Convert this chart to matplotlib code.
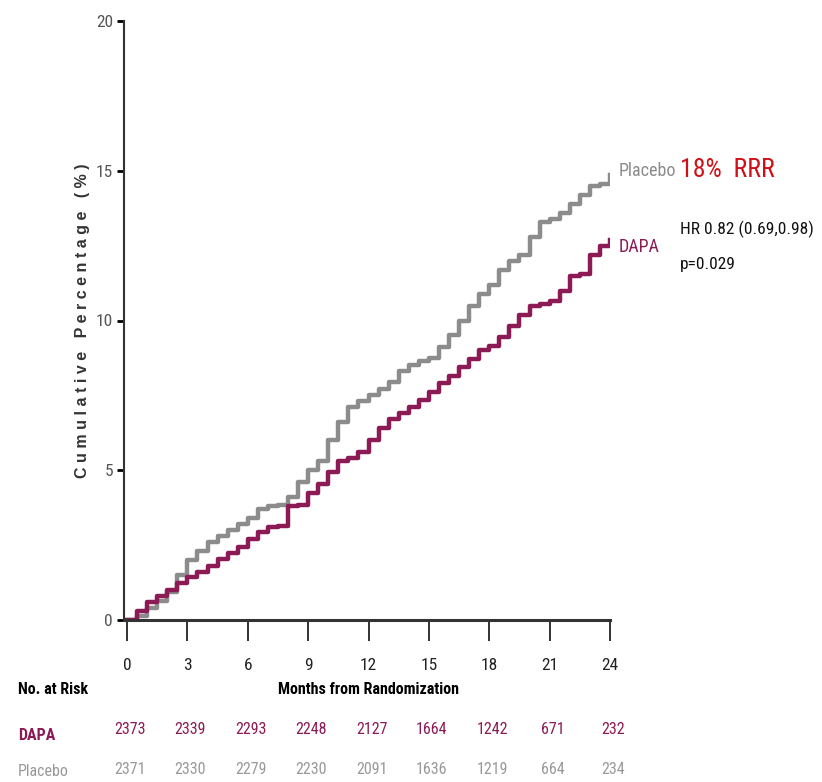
import matplotlib
matplotlib.use('Agg')
import matplotlib.pyplot as plt
import matplotlib.transforms as mtransforms
from matplotlib import font_manager

# pick a narrow face if one is installed
installed = {f.name for f in font_manager.fontManager.ttflist}
narrow = next((n for n in ['Arial Narrow', 'Liberation Sans Narrow', 'Roboto Condensed',
                           'Archivo Narrow', 'PT Sans Narrow', 'Barlow Condensed']
               if n in installed), 'DejaVu Sans')
plt.rcParams['font.family'] = [narrow, 'DejaVu Sans']

# Cumulative percentage, every half month
months = [i * 0.5 for i in range(49)]
placebo = [0, 0.15, 0.4, 0.65, 0.95, 1.5, 2.0, 2.3, 2.6, 2.8, 3.0, 3.2, 3.4, 3.7, 3.8, 3.85,
           4.1, 4.6, 5.0, 5.3, 6.0, 6.6, 7.1, 7.3, 7.5, 7.7, 7.95, 8.3, 8.5, 8.65, 8.75, 9.1,
           9.5, 10.0, 10.5, 10.9, 11.2, 11.7, 12.0, 12.2, 12.8, 13.3, 13.4, 13.6, 13.9, 14.2,
           14.5, 14.55, 14.85]
dapa = [0, 0.3, 0.6, 0.8, 1.0, 1.25, 1.45, 1.6, 1.8, 2.05, 2.25, 2.45, 2.7, 2.95, 3.1, 3.15,
        3.8, 3.85, 4.25, 4.55, 4.95, 5.3, 5.4, 5.6, 6.0, 6.4, 6.7, 6.9, 7.1, 7.35, 7.6, 7.9,
        8.15, 8.45, 8.7, 9.0, 9.15, 9.45, 9.8, 10.2, 10.5, 10.55, 10.65, 11.0, 11.5, 11.55,
        12.2, 12.5, 12.7]

risk_months = [0, 3, 6, 9, 12, 15, 18, 21, 24]
risk_dapa = ['2373', '2339', '2293', '2248', '2127', '1664', '1242', '671', '232']
risk_placebo = ['2371', '2330', '2279', '2230', '2091', '1636', '1219', '664', '234']

grey = '#8c8c8c'
maroon = '#8b1a55'
W, H = 822, 782

fig = plt.figure(figsize=(W / 100, H / 100), dpi=100)
ax = fig.add_axes([124 / W, 1 - 620 / H, 486 / W, 599 / H])

ax.step(months, placebo, where='post', color=grey, lw=3.2)
ax.step(months, dapa, where='post', color=maroon, lw=3.2)

ax.set_xlim(-0.15, 24)
ax.set_ylim(0, 20)
ax.set_xticks(risk_months)
ax.set_yticks([0, 5, 10, 15, 20])
ax.spines['top'].set_visible(False)
ax.spines['right'].set_visible(False)
ax.spines['left'].set_color('#333333')
ax.spines['bottom'].set_color('#333333')
ax.spines['bottom'].set_linewidth(2.2)
ax.spines['left'].set_linewidth(1.5)
ax.tick_params(axis='x', length=15, width=1.3, pad=12, labelsize=12.5, colors='#222222')
ax.tick_params(axis='y', length=5, width=2, pad=3, labelsize=12.5, labelcolor='#555555')

ax.set_ylabel('C u m u l a t i v e   P e r c e n t a g e   ( % )', fontsize=11.5,
              fontweight='bold', color='#333333', labelpad=4, family='Liberation Sans')

fx = lambda px: px / W
fy = lambda py: 1 - py / H
fig.text(fx(368), fy(690), 'Months from Randomization', ha='center', va='center',
         fontsize=11.5, fontweight='bold')
fig.text(fx(18), fy(690), 'No. at Risk', ha='left', va='center', fontsize=11.5, fontweight='bold')
fig.text(fx(18), fy(735), 'DAPA', ha='left', va='center', fontsize=11.5, fontweight='bold', color=maroon)
fig.text(fx(18), fy(771), 'Placebo', ha='left', va='center', fontsize=11.5, color='#999999')

trans = mtransforms.blended_transform_factory(ax.transData, fig.transFigure)
for m, d, p in zip(risk_months, risk_dapa, risk_placebo):
    fig.text(m + 0.15, fy(729), d, transform=trans, ha='center', va='center',
             fontsize=11.5, color=maroon)
    fig.text(m + 0.15, fy(770), p, transform=trans, ha='center', va='center',
             fontsize=11.5, color='#999999')

fig.text(fx(619), fy(171), 'Placebo', ha='left', va='center', fontsize=13, color=grey)
fig.text(fx(680), fy(170), '18%  RRR', ha='left', va='center', fontsize=18.5, color='#d01018')
fig.text(fx(619), fy(247), 'DAPA', ha='left', va='center', fontsize=13, color=maroon)
fig.text(fx(680), fy(229), 'HR 0.82 (0.69,0.98)', ha='left', va='center', fontsize=12.5, color='#111111')
fig.text(fx(680), fy(265), 'p=0.029', ha='left', va='center', fontsize=12.5, color='#111111')

fig.savefig('out.png', dpi=100)
